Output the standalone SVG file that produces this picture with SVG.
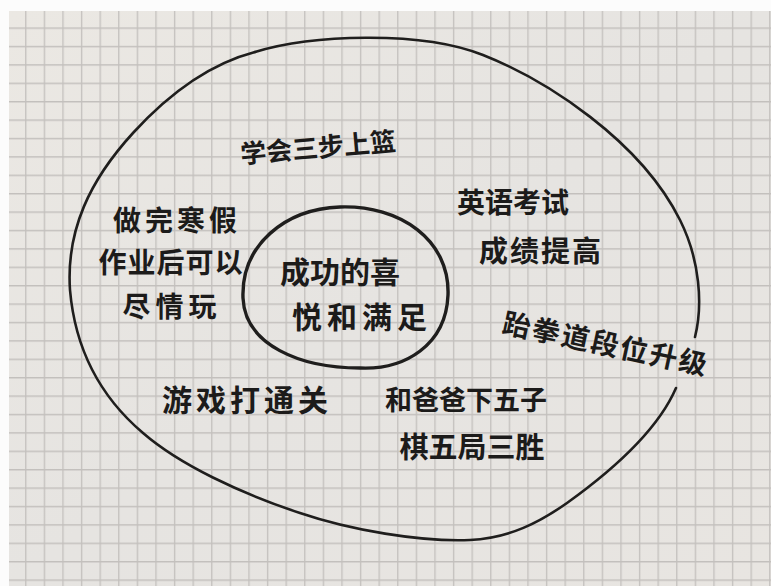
<svg xmlns="http://www.w3.org/2000/svg" width="771" height="586" viewBox="0 0 771 586">
  <defs>
    <pattern id="grid" x="6.5" y="9" width="18.6" height="18.4" patternUnits="userSpaceOnUse">
      <path d="M0 0.7 H18.6 M0.7 0 V18.4" fill="none" stroke="#c3c0bd" stroke-width="1.3"/>
    </pattern>
    <linearGradient id="paper" x1="0" y1="0" x2="1" y2="1">
      <stop offset="0" stop-color="#ebe8e3"/>
      <stop offset="0.5" stop-color="#e6e4e1"/>
      <stop offset="1" stop-color="#e8e5e1"/>
    </linearGradient>
  </defs>
  <style>
    .ink { fill: none; stroke: #1f1e1d; stroke-linecap: round; stroke-linejoin: round; }
    .hand { font-family: "Noto Sans CJK SC", "Noto Sans CJK TC", sans-serif; fill: #1c1b1a; font-weight: 600; text-anchor: middle; }
  </style>

  <rect x="0" y="0" width="771" height="586" fill="#fcfcfc"/>
  <rect x="9" y="11" width="762" height="575" fill="url(#paper)"/>
  <rect x="9" y="11" width="762" height="575" fill="url(#grid)"/>

  <g id="outer-ring">
    <path class="ink" stroke-width="2.6" d="M255,52 C310,35 420,30 483,55 C546,80 640,140 680,220 C700,260 703,305 695,337"/>
    <path class="ink" stroke-width="2.6" d="M676,388 C660,425 620,465 567,503 C540,522 510,538 470,540 C420,542 350,530 300,513 C240,493 180,465 143,433 C110,405 76,360 70,290 C66,230 90,180 133,133 C165,98 205,65 255,52"/>
  </g>

  <g id="inner-ring">
    <path class="ink" stroke-width="3.4" d="M340,207 C400,205 450,240 448,295 C446,345 405,370 360,368 C300,368 245,345 243,298 C241,245 285,209 340,207 Z"/>
  </g>

  <g id="center">
    <text class="hand" x="340" y="283" font-size="30">成功的喜</text>
    <text class="hand" x="362" y="328" font-size="30" letter-spacing="5">悦和满足</text>
  </g>

  <g id="basketball">
    <text class="hand" x="318" y="157" font-size="26" transform="rotate(-5 318 147)">学会三步上篮</text>
  </g>

  <g id="homework">
    <text class="hand" x="177" y="231" font-size="28" letter-spacing="4">做完寒假</text>
    <text class="hand" x="171" y="273" font-size="28" letter-spacing="1">作业后可以</text>
    <text class="hand" x="172" y="317" font-size="28" letter-spacing="5">尽情玩</text>
  </g>

  <g id="english">
    <text class="hand" x="513" y="213" font-size="28">英语考试</text>
    <text class="hand" x="541" y="262" font-size="29" letter-spacing="2">成绩提高</text>
  </g>

  <g id="taekwondo">
    <text class="hand" x="606" y="354" font-size="28" letter-spacing="2" transform="rotate(12 605 343)">跆拳道段位升级</text>
  </g>

  <g id="game">
    <text class="hand" x="247" y="411" font-size="30" letter-spacing="4">游戏打通关</text>
  </g>

  <g id="gomoku">
    <text class="hand" x="466" y="410" font-size="27">和爸爸下五子</text>
    <text class="hand" x="472" y="458" font-size="29">棋五局三胜</text>
  </g>
</svg>
